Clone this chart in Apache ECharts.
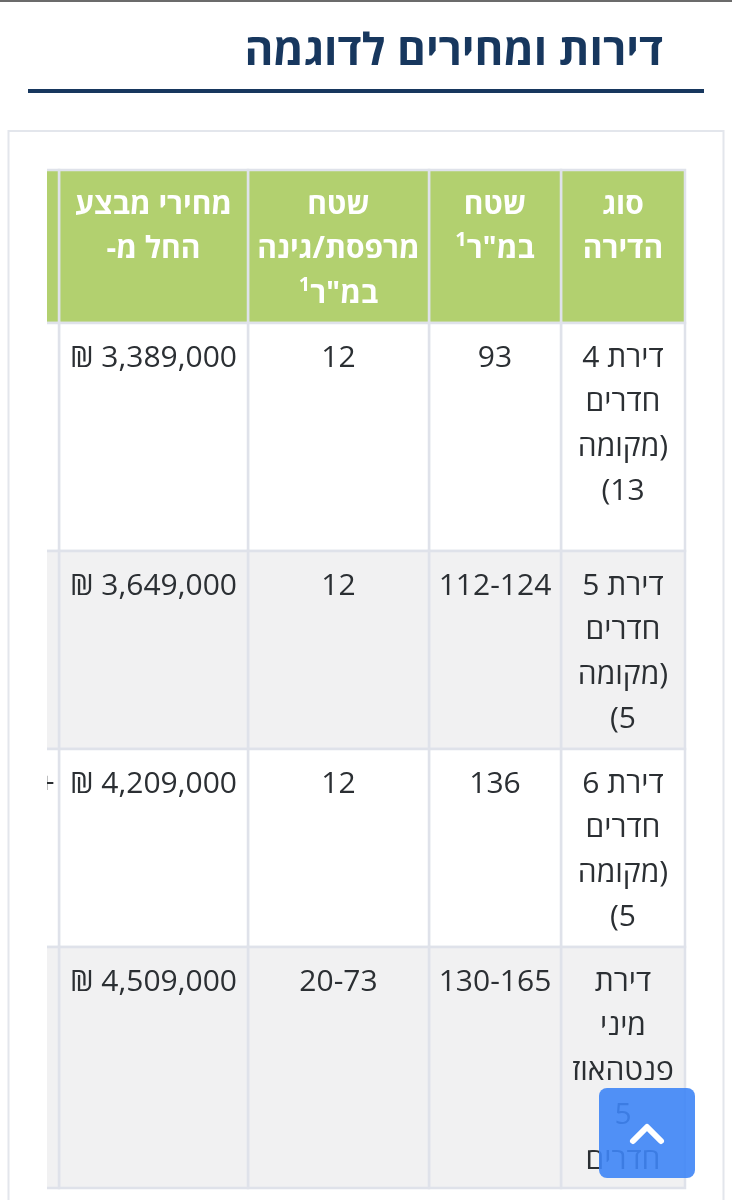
<!DOCTYPE html>
<html dir="rtl">
<head>
<meta charset="utf-8">
<style>
html, body { margin: 0; padding: 0; background: #fff; }
#main { width: 732px; height: 1200px; direction: rtl; }
</style>
<script src="https://cdn.jsdelivr.net/npm/echarts@6/dist/echarts.min.js"></script>
</head>
<body>
<div id="main"></div>
<script>
var pageTitle = 'דירות ומחירים לדוגמה';

var headers = [
    ['סוג', 'הדירה'],
    ['שטח', '{s|1}{h|במ"ר}'],
    ['שטח', 'מרפסת/גינה', '{s|1}{h|במ"ר}'],
    ['מחירי מבצע', 'החל מ-'],
    ['']
];
var apartmentTypes = [
    ['דירת 4', 'חדרים', '(מקומה', '13)'],
    ['דירת 5', 'חדרים', '(מקומה', '5)'],
    ['דירת 6', 'חדרים', '(מקומה', '5)'],
    ['דירת', 'מיני', 'פנטהאוז', '5', 'חדרים']
];
var areas = ['93', '112-124', '136', '130-165'];
var balconyAreas = ['12', '12', '12', '20-73'];
var prices = [3389000, 3649000, 4209000, 4509000];
var clippedColumn = ['', '', '+', ''];

// table layout, columns run right to left as on the page
var colEdges = [685, 561, 429, 248, 59, 20];
var rowEdges = [170, 323, 551, 749, 947, 1188];

var cells = [];
headers.forEach(function (lines, c) {
    cells.push({ value: [c, 0], lines: lines, head: true });
});
apartmentTypes.forEach(function (lines, r) {
    cells.push({ value: [0, r + 1], lines: lines });
    cells.push({ value: [1, r + 1], lines: [areas[r]] });
    cells.push({ value: [2, r + 1], lines: [balconyAreas[r]] });
    cells.push({ value: [3, r + 1], lines: [prices[r].toLocaleString('en-US') + ' ₪'] });
    cells.push({ value: [4, r + 1], lines: [clippedColumn[r]], clipped: true });
});

function renderCell(params, api) {
    var c = api.value(0), r = api.value(1);
    var cell = cells[params.dataIndex];
    var tl = api.coord([colEdges[c + 1], rowEdges[r]]);
    var br = api.coord([colEdges[c], rowEdges[r + 1]]);
    var fill = r === 0 ? '#b2d06f' : (r % 2 === 0 ? '#f1f1f2' : '#ffffff');
    var children = [{
        type: 'rect',
        shape: { x: tl[0], y: tl[1], width: br[0] - tl[0], height: br[1] - tl[1] },
        style: { fill: fill, stroke: '#dfe2ea', lineWidth: 2.5 }
    }];
    var firstLine = tl[1] + 35;
    cell.lines.forEach(function (line, i) {
        var style = {
            text: line,
            x: cell.clipped ? 55 : (tl[0] + br[0]) / 2,
            y: firstLine + i * 44.6,
            align: cell.clipped ? 'right' : 'center',
            verticalAlign: 'middle',
            fill: cell.head ? '#ffffff' : '#2b2f33',
            font: (cell.head ? 'bold ' : '') + '30px "Open Sans", "Liberation Sans", sans-serif'
        };
        if (cell.head) {
            style.rich = {
                h: { fill: '#ffffff', font: 'bold 30px "Open Sans", "Liberation Sans", sans-serif', verticalAlign: 'middle' },
                s: { fill: '#ffffff', font: 'bold 20px "Open Sans", "Liberation Sans", sans-serif', padding: [0, 0, 18, 0] }
            };
        }
        children.push({ type: 'text', style: style });
    });
    return { type: 'group', children: children };
}

var myChart = echarts.init(document.getElementById('main'));
myChart.setOption({
    animation: false,
    title: {
        text: pageTitle,
        right: 64,
        top: 25,
        textStyle: {
            color: '#17375e',
            fontSize: 44,
            fontWeight: 'bold',
            fontFamily: '"Open Sans", "Liberation Sans", sans-serif'
        }
    },
    grid: { left: 0, right: 0, top: 0, bottom: 0 },
    xAxis: { type: 'value', min: 0, max: 732, show: false },
    yAxis: { type: 'value', min: 0, max: 1200, inverse: true, show: false },
    series: [{
        type: 'custom',
        coordinateSystem: 'cartesian2d',
        renderItem: renderCell,
        encode: { x: 0, y: 1 },
        clip: false,
        z: 2,
        data: cells
    }],
    graphic: [
        { type: 'rect', z: 0, shape: { x: 0, y: 0, width: 732, height: 2 }, style: { fill: '#6b6b6b' } },
        { type: 'rect', z: 0, shape: { x: 28, y: 89, width: 676, height: 4 }, style: { fill: '#17375e' } },
        { type: 'rect', z: 0, shape: { x: 8.5, y: 131, width: 715, height: 1080 }, style: { fill: '#fff', stroke: '#e3e6ec', lineWidth: 2 } },
        // table is scrolled, anything left of x=47 is hidden
        { type: 'rect', z: 50, shape: { x: 10, y: 160, width: 37, height: 1040 }, style: { fill: '#fff' } },
        { type: 'rect', z: 60, shape: { x: 599, y: 1088, width: 96, height: 90, r: 8 }, style: { fill: 'rgba(62,133,246,0.9)' } },
        {
            type: 'polyline', z: 61,
            shape: { points: [[633, 1141], [647, 1127], [661, 1141]] },
            style: { stroke: '#fff', lineWidth: 6, lineCap: 'round', lineJoin: 'round', fill: null }
        }
    ]
});
</script>
</body>
</html>
